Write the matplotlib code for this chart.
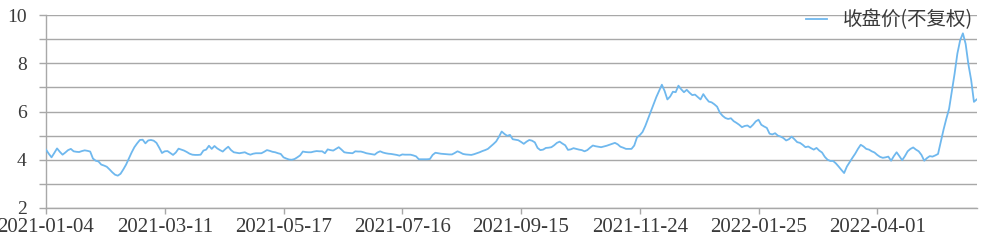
import matplotlib
matplotlib.use('Agg')
import matplotlib.pyplot as plt
import numpy as np

plt.rcParams['font.family'] = ['Liberation Serif', 'Noto Sans CJK SC', 'DejaVu Sans']

SERIES_NAME = '收盘价(不复权)'

# closing price, one value per trading day
close = [
    4.42, 4.25, 4.10, 4.28, 4.47, 4.33, 4.21, 4.30, 4.40, 4.45,
    4.35, 4.33, 4.32, 4.36, 4.39, 4.37, 4.34, 4.05, 3.96, 3.93,
    3.80, 3.76, 3.71, 3.60, 3.48, 3.38, 3.34, 3.42, 3.60, 3.80,
    4.05, 4.30, 4.52, 4.68, 4.82, 4.83, 4.68, 4.80, 4.82, 4.79,
    4.70, 4.50, 4.28, 4.35, 4.36, 4.28, 4.20, 4.30, 4.46, 4.42,
    4.38, 4.32, 4.25, 4.21, 4.20, 4.20, 4.21, 4.38, 4.42, 4.58,
    4.45, 4.57, 4.47, 4.40, 4.34, 4.45, 4.54, 4.40, 4.31, 4.29,
    4.27, 4.29, 4.31, 4.25, 4.21, 4.25, 4.27, 4.27, 4.27, 4.33,
    4.40, 4.37, 4.33, 4.31, 4.27, 4.24, 4.10, 4.05, 4.01, 4.00,
    4.03, 4.10, 4.18, 4.34, 4.32, 4.31, 4.31, 4.34, 4.36, 4.35,
    4.35, 4.27, 4.43, 4.40, 4.38, 4.45, 4.52, 4.42, 4.31, 4.29,
    4.28, 4.27, 4.35, 4.34, 4.34, 4.31, 4.27, 4.25, 4.23, 4.21,
    4.30, 4.35, 4.30, 4.27, 4.25, 4.24, 4.22, 4.20, 4.17, 4.22,
    4.21, 4.21, 4.21, 4.18, 4.14, 4.02, 4.02, 4.02, 4.02, 4.03,
    4.20, 4.29, 4.27, 4.25, 4.24, 4.23, 4.22, 4.22, 4.28, 4.35,
    4.30, 4.24, 4.22, 4.21, 4.20, 4.23, 4.27, 4.31, 4.36, 4.40,
    4.45, 4.55, 4.65, 4.76, 4.95, 5.17, 5.07, 4.99, 5.03, 4.85,
    4.83, 4.81, 4.74, 4.66, 4.75, 4.82, 4.79, 4.72, 4.49, 4.40,
    4.42, 4.49, 4.50, 4.52, 4.60, 4.70, 4.75, 4.67, 4.60, 4.41,
    4.43, 4.48, 4.45, 4.42, 4.40, 4.35, 4.40, 4.50, 4.59, 4.56,
    4.54, 4.52, 4.55, 4.58, 4.62, 4.66, 4.70, 4.64, 4.54, 4.50,
    4.45, 4.45, 4.45, 4.59, 4.93, 5.02, 5.15, 5.40, 5.70, 6.00,
    6.31, 6.60, 6.85, 7.11, 6.85, 6.50, 6.62, 6.82, 6.80, 7.07,
    6.92, 6.80, 6.90, 6.78, 6.68, 6.70, 6.60, 6.50, 6.72, 6.55,
    6.41, 6.38, 6.30, 6.20, 5.95, 5.82, 5.73, 5.69, 5.72, 5.60,
    5.53, 5.45, 5.35, 5.40, 5.42, 5.34, 5.45, 5.59, 5.66, 5.45,
    5.38, 5.32, 5.08, 5.05, 5.10, 5.00, 4.96, 4.90, 4.80, 4.85,
    4.96, 4.85, 4.73, 4.70, 4.62, 4.52, 4.55, 4.48, 4.42, 4.49,
    4.38, 4.30, 4.12, 4.00, 3.95, 3.95, 3.85, 3.72, 3.58, 3.45,
    3.72, 3.90, 4.08, 4.25, 4.45, 4.62, 4.55, 4.45, 4.42, 4.35,
    4.30, 4.20, 4.12, 4.08, 4.10, 4.13, 3.96, 4.15, 4.31, 4.15,
    3.98, 4.15, 4.35, 4.45, 4.51, 4.42, 4.35, 4.20, 3.96, 4.07,
    4.15, 4.13, 4.18, 4.24, 4.75, 5.25, 5.70, 6.11, 6.85, 7.57,
    8.40, 8.95, 9.24, 8.80, 7.95, 7.30, 6.40, 6.50,
]

# labelled dates on the category axis (every 43rd trading day)
tick_labels = ['2021-01-04', '2021-03-11', '2021-05-17', '2021-07-16',
               '2021-09-15', '2021-11-24', '2022-01-25', '2022-04-01']
tick_step = 43

y_ticks = list(range(2, 11))

LINE_COLOR = '#6fb8ee'
GRID_COLOR = '#a8a8a8'
TEXT_COLOR = '#3a3a3a'

dpi = 100
fig = plt.figure(figsize=(994 / dpi, 242 / dpi), dpi=dpi)
ax = fig.add_axes([46 / 994, 34 / 242, 930.7 / 994, 193 / 242])

x = np.arange(len(close))
ax.plot(x, close, color=LINE_COLOR, linewidth=1.3, label=SERIES_NAME, zorder=3)

ax.set_xlim(0, len(close) - 1)
ax.set_ylim(2, 10)

ax.set_yticks(y_ticks)
ax.set_yticklabels([str(v) if v % 2 == 0 else '' for v in y_ticks])
ax.set_xticks([i * tick_step for i in range(len(tick_labels))])
ax.set_xticklabels(tick_labels)

ax.grid(axis='y', color=GRID_COLOR, linewidth=1.0)
ax.set_axisbelow(True)

for side in ('top', 'right'):
    ax.spines[side].set_visible(False)
for side in ('left', 'bottom'):
    ax.spines[side].set_color(GRID_COLOR)
    ax.spines[side].set_linewidth(1.0)

ax.tick_params(axis='y', length=5, width=1.0, color=GRID_COLOR, pad=9,
               labelsize=14, labelcolor=TEXT_COLOR)
ax.tick_params(axis='x', length=4, width=1.0, color=GRID_COLOR, pad=3.5,
               labelsize=15, labelcolor=TEXT_COLOR)

ax.legend(
    loc='center right',
    bbox_to_anchor=(973 / 994, 1 - 20 / 242),
    bbox_transform=fig.transFigure,
    frameon=False,
    borderpad=0,
    borderaxespad=0,
    handlelength=1.1,
    handletextpad=0.8,
    prop={'family': ['Noto Sans CJK SC', 'DejaVu Sans'], 'size': 14},
    labelcolor=TEXT_COLOR,
)

fig.savefig('out.png', dpi=dpi)
